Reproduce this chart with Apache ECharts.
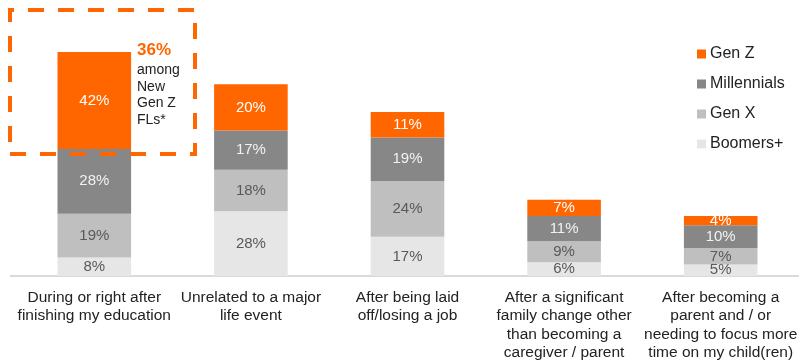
<!DOCTYPE html>
<html>
<head>
<meta charset="utf-8">
<script src="https://cdn.jsdelivr.net/npm/echarts@6/dist/echarts.min.js"></script>
<style>
  html, body { margin: 0; padding: 0; background: #fff; }
  #chart { width: 799px; height: 362px; }
</style>
</head>
<body>
<div id="chart"></div>
<script>
// Moments when respondents became first-time FLs, split by generation (%)
const categories = [
  'During or right after\nfinishing my education',
  'Unrelated to a major\nlife event',
  'After being laid\noff/losing a job',
  'After a significant\nfamily change other\nthan becoming a\ncaregiver / parent',
  'After becoming a\nparent and / or\nneeding to focus more\ntime on my child(ren)'
];
const boomers = [8, 28, 17, 6, 5];
const genX = [19, 18, 24, 9, 7];
const millennials = [28, 17, 19, 11, 10];
const genZ = [42, 20, 11, 7, 4];

const seriesNames = ['Boomers+', 'Gen X', 'Millennials', 'Gen Z'];
const legendOrder = ['Gen Z', 'Millennials', 'Gen X', 'Boomers+'];

const calloutLines = ['36%', 'among', 'New', 'Gen Z', 'FLs*'];

const FONT = '"Liberation Sans", Arial, sans-serif';
const ORANGE = '#FF6600';

function stackSeries(name, data, color, labelColor) {
  return {
    name: name,
    type: 'bar',
    stack: 'total',
    data: data,
    barWidth: '47%',
    itemStyle: { color: color },
    label: {
      show: true,
      position: 'inside',
      formatter: '{c}%',
      color: labelColor,
      fontFamily: FONT,
      fontSize: 15
    }
  };
}

const chart = echarts.init(document.getElementById('chart'), null, { renderer: 'canvas' });

chart.setOption({
  animation: false,
  backgroundColor: '#ffffff',
  grid: {
    left: 16, right: 0, top: 45, bottom: 86,
    containLabel: false,
    outerBoundsMode: 'none'
  },
  legend: {
    data: legendOrder,
    orient: 'vertical',
    left: 692,
    top: 41,
    itemWidth: 9,
    itemHeight: 9,
    itemGap: 14,
    icon: 'rect',
    textStyle: { fontFamily: FONT, fontSize: 16, color: '#222222', padding: [0, 0, 0, -1] }
  },
  xAxis: {
    type: 'category',
    data: categories,
    axisTick: { show: false },
    axisLine: { show: true, lineStyle: { color: '#D9D9D9', width: 2 } },
    axisLabel: {
      interval: 0,
      margin: 12,
      fontFamily: FONT,
      fontSize: 15.5,
      lineHeight: 18.5,
      color: '#222222'
    }
  },
  yAxis: {
    type: 'value',
    min: 0,
    max: 100,
    show: false
  },
  series: [
    stackSeries(seriesNames[0], boomers, '#E6E6E6', '#595959'),
    stackSeries(seriesNames[1], genX, '#BFBFBF', '#595959'),
    stackSeries(seriesNames[2], millennials, '#878787', '#F2F2F2'),
    stackSeries(seriesNames[3], genZ, ORANGE, '#FFFFFF')
  ],
  graphic: [
    // baseline stub reaching the left edge
    {
      type: 'line',
      z: 1,
      shape: { x1: 10, y1: 276, x2: 17, y2: 276 },
      style: { stroke: '#D9D9D9', lineWidth: 2 }
    },
    // dashed callout frame, traced from the bottom-left corner upward
    {
      type: 'polyline',
      z: 100,
      shape: { points: [[10, 154], [10, 10], [195, 10], [195, 154], [10, 154]] },
      style: { fill: null, stroke: ORANGE, lineWidth: 4, lineDash: [16, 14], lineDashOffset: 18 }
    },
    {
      type: 'text',
      z: 100,
      left: 137,
      top: 42,
      style: {
        text: calloutLines[0],
        fill: ORANGE,
        font: 'bold 17px ' + FONT
      }
    },
    {
      type: 'text',
      z: 100,
      left: 137,
      top: 62,
      style: {
        text: calloutLines.slice(1).join('\n'),
        fill: '#222222',
        font: '14px ' + FONT,
        lineHeight: 16.5
      }
    }
  ]
});
</script>
</body>
</html>
